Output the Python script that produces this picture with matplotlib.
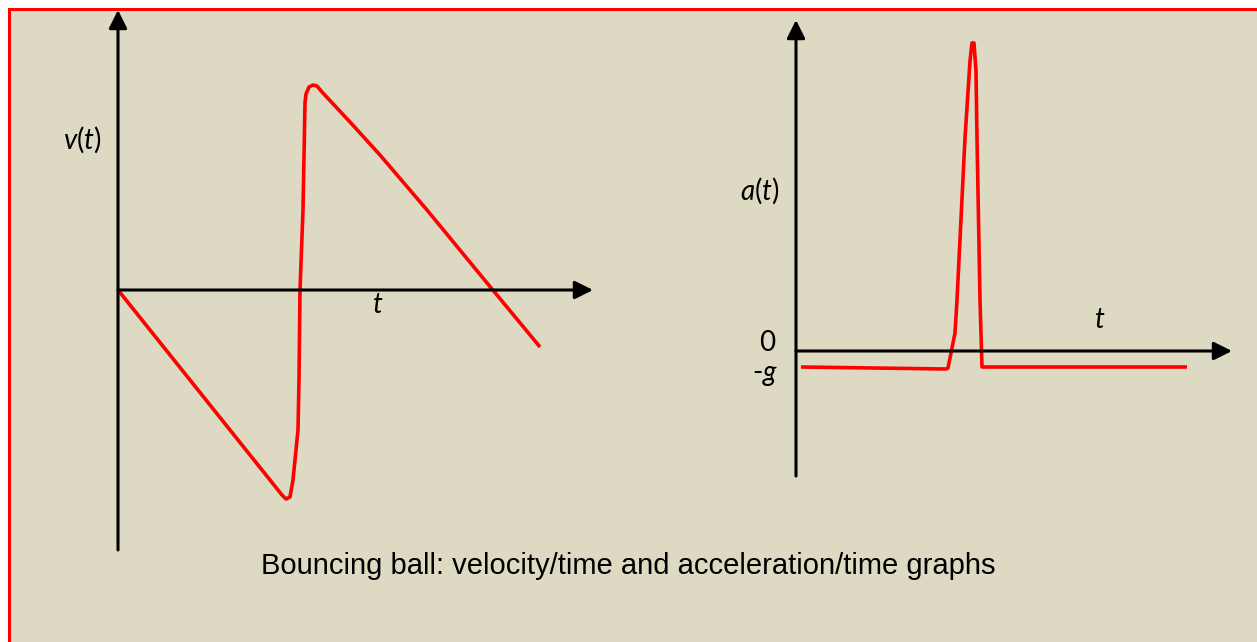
import matplotlib
matplotlib.use("Agg")
import matplotlib.pyplot as plt
from matplotlib.patches import Rectangle

# --- data (schematic units) ---
# velocity / time: falls linearly, bounce, rises then falls again
v_t = [0.0, 16.4, 16.8, 17.2, 17.5, 18.0, 18.1, 18.2, 18.5, 18.7, 18.8, 19.1, 19.5,
       19.9, 20.4, 23.2, 26.2, 30.9, 37.4, 42.2]
v_v = [0.0, -20.5, -20.9, -20.7, -19.0, -14.0, -9.0, 0.0, 8.0, 18.7, 19.6, 20.3, 20.5,
       20.4, 19.8, 16.8, 13.5, 8.0, 0.1, -5.7]

# acceleration / time: -g, then a short spike at the bounce
a_t = [0.5, 15.0, 15.2, 15.9, 16.1, 16.9, 17.4, 17.6, 17.8, 18.0, 18.1, 18.4, 18.6, 39.1]
a_a = [-1.6, -1.8, -1.7, 1.8, 5.1, 21.3, 29.0, 30.8, 30.8, 28.0, 21.3, 5.1, -1.6, -1.6]

v_tlim = (0, 47.5)
v_vlim = (-26, 28)
a_tlim = (0, 43.6)
a_alim = (-12.5, 33.1)

caption = "Bouncing ball: velocity/time and acceleration/time graphs"

BG = "#DDD9C3"
RED = "#FF0000"

plt.rcParams["mathtext.fontset"] = "custom"
plt.rcParams["mathtext.it"] = "Lato:italic"
plt.rcParams["mathtext.rm"] = "Lato"
plt.rcParams["mathtext.default"] = "it"

W, H = 1257, 642
fig = plt.figure(figsize=(W / 100, H / 100), dpi=100)
fig.patch.set_facecolor("white")

# beige panel with red border on top/left (runs off right and bottom)
fig.patches.append(Rectangle((8.5 / W, -0.05), 1.1, 1 - 8.5 / H + 0.05,
                             transform=fig.transFigure, facecolor=BG,
                             edgecolor=RED, linewidth=2.2, zorder=-10))


def arrow_axis(ax, start, end):
    ax.annotate("", xy=end, xytext=start,
                arrowprops=dict(arrowstyle="-|>,head_length=1.1,head_width=0.55",
                                mutation_scale=10, lw=2.2, color="black",
                                shrinkA=0, shrinkB=0))


def px_axes(x0, x1, y_top, y_bot):
    ax = fig.add_axes([x0 / W, 1 - y_bot / H, (x1 - x0) / W, (y_bot - y_top) / H])
    ax.patch.set_visible(False)
    return ax


LBL = 20

# --- left: v(t) ---
ax1 = px_axes(118, 593, 10, 550)
ax1.set_xlim(*v_tlim)
ax1.set_ylim(*v_vlim)
ax1.axis("off")
arrow_axis(ax1, (0, v_vlim[0]), (0, v_vlim[1]))
arrow_axis(ax1, (0, 0), (v_tlim[1], 0))
ax1.plot(v_t, v_v, color=RED, lw=2.6, solid_joinstyle="round", solid_capstyle="butt")
ax1.text(-3.6, 15.0, "$v$($t$)", fontsize=LBL, family="Lato", ha="center", va="center")
ax1.text(26.0, -1.5, "$t$", fontsize=LBL, ha="center", va="center")

# --- right: a(t) ---
ax2 = px_axes(796, 1232, 20, 476)
ax2.set_xlim(*a_tlim)
ax2.set_ylim(*a_alim)
ax2.axis("off")
arrow_axis(ax2, (0, a_alim[0]), (0, a_alim[1]))
arrow_axis(ax2, (0, 0), (a_tlim[1], 0))
ax2.plot(a_t, a_a, color=RED, lw=2.6, solid_joinstyle="round", solid_capstyle="butt")
ax2.text(-3.6, 16.0, "$a$($t$)", fontsize=LBL, family="Lato", ha="center", va="center")
ax2.text(-2.8, -0.6, r"$\mathrm{0}$", fontsize=LBL, ha="center", va="bottom")
ax2.text(-3.1, -1.05, "-$g$", fontsize=LBL, family="Lato", ha="center", va="top")
ax2.text(30.4, 3.1, "$t$", fontsize=LBL, ha="center", va="center")

fig.text(628 / W, 1 - 566 / H, caption, fontsize=21, family="Liberation Sans",
         ha="center", va="center")

fig.savefig("out.png", dpi=100, facecolor=fig.get_facecolor())
